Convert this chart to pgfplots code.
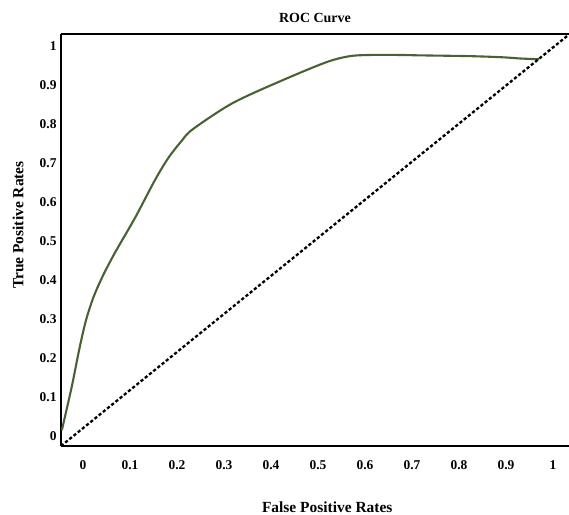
\documentclass[border=0pt]{standalone}
\usepackage{pgfplots}
\pgfplotsset{compat=1.18}
\usepackage{fontspec}
\setmainfont{Liberation Serif}
\definecolor{roc}{RGB}{72,98,52}
\begin{document}
\begin{tikzpicture}
\begin{axis}[
  name=ax,
  at={(0,0)}, anchor=south west,
  scale only axis,
  width=508bp, height=411.5bp,
  xmin=-0.0468, xmax=1.034,
  ymin=-0.0256, ymax=1.0295,
  xtick={0,0.1,0.2,0.3,0.4,0.5,0.6,0.7,0.8,0.9,1},
  ytick={0,0.1,0.2,0.3,0.4,0.5,0.6,0.7,0.8,0.9,1},
  major tick length=0pt,
  /pgf/number format/assume math mode=true,
  ticklabel style={font=\bfseries\fontsize{13.5}{15}\selectfont},
  xticklabel style={yshift=-11bp},
  yticklabel style={xshift=-1bp},
  separate axis lines,
  axis x line*=bottom, axis y line*=left,
  axis line style={line width=2.4bp, black},
  xlabel={False Positive Rates},
  ylabel={True Positive Rates},
  every axis x label/.style={at={(axis description cs:0.524,0)}, anchor=center, yshift=-61bp, font=\bfseries\fontsize{15.5}{17}\selectfont},
  every axis y label/.style={at={(axis description cs:-0.0846,0.537)}, anchor=center, rotate=90, font=\bfseries\fontsize{15.5}{17}\selectfont},
  title={ROC Curve},
  every axis title/.style={at={(axis description cs:0.5,1)}, anchor=center, yshift=16.5bp, font=\bfseries\fontsize{14}{16}\selectfont},
  clip=false,
]
\addplot[color=roc, line width=2.1bp, smooth, tension=0.5] coordinates {
(-0.045,0.015) (-0.024,0.126) (-0.008,0.222) (0.006,0.295) (0.022,0.355)
(0.042,0.410) (0.068,0.470) (0.111,0.560) (0.153,0.656) (0.181,0.712)
(0.210,0.757) (0.234,0.787) (0.319,0.854) (0.426,0.913) (0.519,0.959)
(0.568,0.974) (0.611,0.977) (0.674,0.977) (0.717,0.976) (0.823,0.974)
(0.894,0.971) (0.930,0.968) (0.970,0.966)
};
\addplot[black, line width=2.3bp, dash pattern=on 3.2bp off 2.2bp] coordinates {
(-0.0468,-0.0256) (1.034,1.0295)
};
\end{axis}
\draw[line width=2bp] (ax.north west) -- (ax.north east);
\pgfresetboundingbox
\path[use as bounding box] ([xshift=-61bp,yshift=-69bp]ax.south west) rectangle ([yshift=34.5bp]ax.north east);
\end{tikzpicture}
\end{document}
